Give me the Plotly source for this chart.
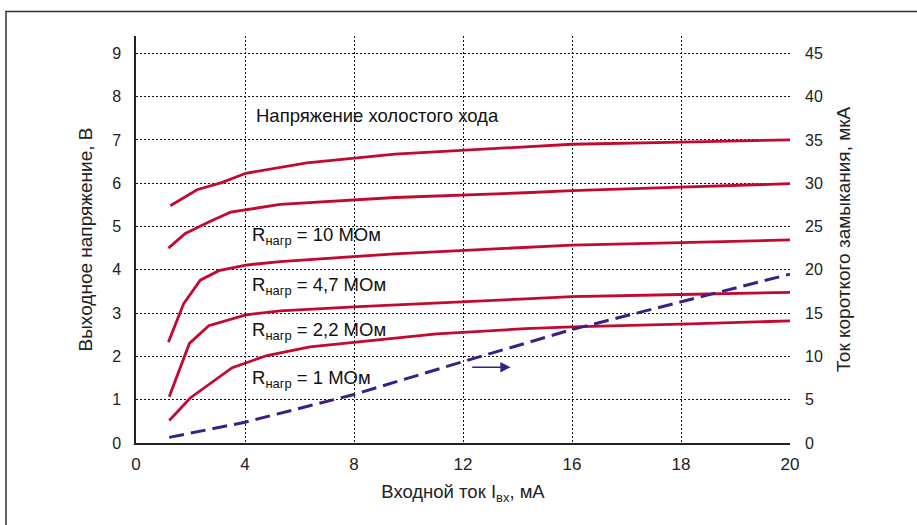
import numpy as np
import plotly.graph_objects as go

# ---- data (x in mA, left axis in V, right axis in µA) ----
x_tick_labels = [0, 4, 8, 12, 16, 18, 20]          # labelled x ticks (non-uniform spacing on the chart)

x_open = [1.26, 2.24, 3.17, 4.03, 6.27, 9.5, 14.29, 16, 18, 20]
v_open = [5.48, 5.85, 6.02, 6.23, 6.47, 6.67, 6.84, 6.9, 6.95, 7.0]

x_10M = [1.19, 1.81, 2.73, 3.47, 5.29, 9.5, 14.29, 16, 18, 20]
v_10M = [4.50, 4.84, 5.12, 5.33, 5.51, 5.67, 5.78, 5.83, 5.91, 5.99]

x_4_7M = [1.19, 1.75, 2.36, 3.04, 4.03, 5.29, 9.5, 14.29, 16, 18, 20]
v_4_7M = [2.33, 3.22, 3.76, 3.98, 4.11, 4.19, 4.37, 4.51, 4.57, 4.63, 4.69]

x_2_2M = [1.22, 1.96, 2.67, 4.03, 5.29, 8.18, 14.29, 16, 18, 20]
v_2_2M = [1.07, 2.30, 2.71, 2.96, 3.05, 3.15, 3.33, 3.38, 3.43, 3.48]

x_1M = [1.22, 1.99, 3.53, 4.81, 6.38, 8.18, 11.04, 14.29, 16, 18.17, 20]
v_1M = [0.52, 1.04, 1.74, 2.02, 2.22, 2.34, 2.52, 2.64, 2.68, 2.75, 2.82]

x_isc = [1.22, 4, 8, 12, 16, 18, 20]
i_isc = [0.65, 2.4, 5.6, 9.4, 13.1, 16.3, 19.5]

left_ticks = list(range(0, 10))
right_ticks = list(range(0, 50, 5))

# ---- axis mapping: labelled ticks are drawn at equal spacing ----
tick_pos = [0, 4, 8, 12, 16, 20, 24]


def to_axis(x):
    return np.interp(x, x_tick_labels, tick_pos)


RED = "#C20A30"
PURPLE = "#3B1F86"
FONT = "Liberation Sans, Arial, sans-serif"

W, H = 917, 525
ML, MR, MT, MB = 136, 127, 36, 82

fig = go.Figure()
for xs, ys in [(x_open, v_open), (x_10M, v_10M), (x_4_7M, v_4_7M),
               (x_2_2M, v_2_2M), (x_1M, v_1M)]:
    fig.add_trace(go.Scatter(x=to_axis(xs), y=ys, mode="lines",
                             line=dict(color=RED, width=2.8), showlegend=False,
                             yaxis="y"))
fig.add_trace(go.Scatter(x=to_axis(x_isc), y=i_isc, mode="lines",
                         line=dict(color=PURPLE, width=3, dash="15px,7px"),
                         showlegend=False, yaxis="y2"))

grid_dash = "2px,2px"
fig.update_layout(
    width=W, height=H,
    margin=dict(l=ML, r=MR, t=MT, b=MB, autoexpand=False),
    paper_bgcolor="white", plot_bgcolor="white",
    font=dict(family=FONT, size=16, color="#222"),
    xaxis=dict(range=[0, 24], tickvals=tick_pos,
               ticktext=[str(v) for v in x_tick_labels],
               showgrid=True, gridcolor="#111", griddash=grid_dash, gridwidth=1,
               showline=True, linecolor="#222", linewidth=1.5, automargin=False,
               zeroline=False, ticks="", ticklabelstandoff=5,
               tickfont=dict(size=17),
               title=dict(text="Входной ток I<sub>вх</sub>, мА",
                          font=dict(size=18.5), standoff=12)),
    yaxis=dict(range=[0, 9.4], tickvals=left_ticks,
               showgrid=True, gridcolor="#111", griddash=grid_dash, gridwidth=1,
               showline=True, linecolor="#222", linewidth=1.5, automargin=False,
               zeroline=False, ticks="", ticklabelstandoff=10,
               tickfont=dict(size=16),
               title=dict(text="Выходное напряжение, В", font=dict(size=19),
                          standoff=14)),
    yaxis2=dict(range=[0, 47], tickvals=right_ticks, overlaying="y", side="right",
                showgrid=False, showline=False, zeroline=False, ticks="",
                automargin=False,
                ticklabelstandoff=14, tickfont=dict(size=16),
                title=dict(text="Ток короткого замыкания, мкА", font=dict(size=19),
                           standoff=14)),
)

# labels
ann_font = dict(family=FONT, size=18.5, color="#111")
labels = [
    ("Напряжение холостого хода", 4.33, 7.56),
    ("R<sub>нагр</sub> = 10 МОм", 4.2, 4.78),
    ("R<sub>нагр</sub> = 4,7 МОм", 4.2, 3.62),
    ("R<sub>нагр</sub> = 2,2 МОм", 4.2, 2.58),
    ("R<sub>нагр</sub> = 1 МОм", 4.2, 1.47),
]
for text, xa, ya in labels:
    fig.add_annotation(x=xa, y=ya, xref="x", yref="y", text=text, showarrow=False,
                       xanchor="left", yanchor="middle", font=ann_font)

# arrow pointing to right axis
fig.add_annotation(x=to_axis(13.75), y=1.75, xref="x", yref="y", text="",
                   showarrow=True, ax=-40, ay=0, arrowhead=2, arrowsize=1.3,
                   arrowwidth=1.6, arrowcolor=PURPLE, standoff=0)

# outer frame (only top and left edges visible in the picture)
pw = W - ML - MR
ph = H - MT - MB
fig.add_shape(type="rect", xref="paper", yref="paper",
              x0=(6 - ML) / pw, x1=(W + 20 - ML) / pw,
              y0=-(H + 20 - MT - ph) / ph, y1=(H - 11.5 - MB) / ph,
              line=dict(color="#333", width=1.5), fillcolor="rgba(0,0,0,0)",
              layer="below")

fig.write_html("out.html", config={"displayModeBar": False},
               post_script="document.body.style.margin='0';"
                           "document.body.style.overflow='hidden';")
